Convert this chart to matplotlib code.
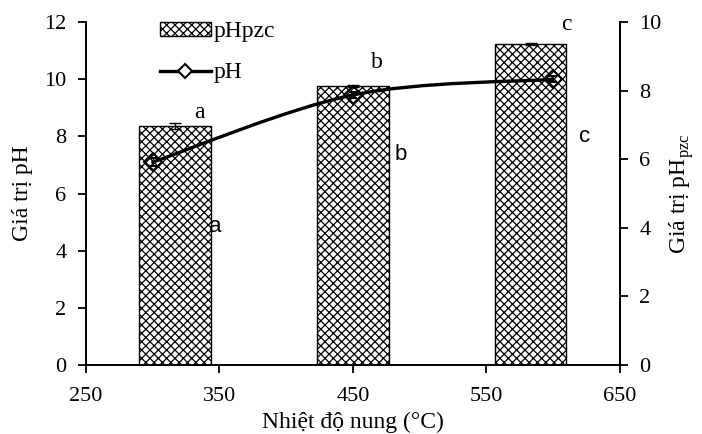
import numpy as np
import matplotlib
matplotlib.use("Agg")
import matplotlib.pyplot as plt
from matplotlib.path import Path
from matplotlib.patches import PathPatch
from matplotlib.lines import Line2D

plt.rcParams['font.family'] = ['Liberation Serif', 'DejaVu Serif']
plt.rcParams['hatch.linewidth'] = 0.9
plt.rcParams['mathtext.fontset'] = 'custom'
plt.rcParams['mathtext.rm'] = 'Liberation Serif'

# nhiet do nung va gia tri do
temp = [300, 450, 600]
ph = [7.1, 9.45, 10.0]
ph_err = [0.15, 0.1, 0.1]
phpzc = [6.97, 8.13, 9.36]
phpzc_err = [0.1, 0.03, 0.04]

# ky hieu thong ke (chu cai) va vi tri tren truc pH
lab_pzc = ['a', 'b', 'c']
lab_pzc_x = [334.6, 468, 610]
lab_pzc_y = [8.85, 10.6, 11.93]
lab_ph = ['a', 'b', 'c']
lab_ph_x = [346.6, 486, 623.8]
lab_ph_y = [4.83, 7.35, 7.98]

fig = plt.figure(figsize=(7.02, 4.34), dpi=100)
ax = fig.add_axes([0.1225, 0.159, 0.7605, 0.79])
ax2 = ax.twinx()

# cot pHpzc theo kieu category (3 o chia deu tren truc x)
xmin, xmax = 250, 650
cat_w = (xmax - xmin) / len(temp)
bar_x = [xmin + cat_w * (i + 0.5) for i in range(len(temp))]
ax2.bar(bar_x, phpzc, width=cat_w * 0.4, color='white', edgecolor='black',
        hatch='xxxx', linewidth=1.0, yerr=phpzc_err, capsize=4,
        error_kw=dict(elinewidth=1, ecolor='black'), label='pHpzc')
ax2.set_ylim(0, 10)
ax2.set_yticks(range(0, 11, 2))

# duong pH lam tron (spline Catmull-Rom -> Bezier)
pts = list(zip(temp, ph))
verts = [pts[0]]
codes = [Path.MOVETO]
for i in range(len(pts) - 1):
    p0 = pts[i - 1] if i > 0 else pts[i]
    p1 = pts[i]
    p2 = pts[i + 1]
    p3 = pts[i + 2] if i + 2 < len(pts) else pts[i + 1]
    c1 = (p1[0] + (p2[0] - p0[0]) / 6, p1[1] + (p2[1] - p0[1]) / 6)
    c2 = (p2[0] - (p3[0] - p1[0]) / 6, p2[1] - (p3[1] - p1[1]) / 6)
    verts += [c1, c2, p2]
    codes += [Path.CURVE4] * 3
ax.add_patch(PathPatch(Path(verts, codes), fill=False, lw=2.4, color='black',
                       capstyle='round', zorder=3))
ax.errorbar(temp, ph, yerr=ph_err, linestyle='none', marker='D', markersize=9,
            markerfacecolor='none', markeredgecolor='black',
            markeredgewidth=1.5, ecolor='black', elinewidth=1, capsize=3,
            zorder=4)

ax.set_xlim(xmin, xmax)
ax.set_ylim(0, 12)
ax.set_xticks(range(250, 651, 100))
ax.set_yticks(range(0, 13, 2))

ax.set_zorder(ax2.get_zorder() + 1)
ax.patch.set_visible(False)

for a in (ax, ax2):
    a.spines['top'].set_visible(False)
    for s in ('left', 'right', 'bottom'):
        a.spines[s].set_linewidth(1.3)
    a.tick_params(direction='out', length=6, width=1.3, labelsize=16, pad=8)
ax.tick_params(axis='x', pad=10)

for t, x, y in zip(lab_pzc, lab_pzc_x, lab_pzc_y):
    ax.text(x, y, t, fontsize=17, ha='center', va='center')
for t, x, y in zip(lab_ph, lab_ph_x, lab_ph_y):
    ax.text(x, y, t, fontsize=16, ha='center', va='center',
            family=['Liberation Sans', 'DejaVu Sans'])

ax.set_xlabel('Nhiệt độ nung (°C)', fontsize=17, labelpad=4)
ax.set_ylabel('Giá trị pH', fontsize=17, labelpad=8)
ax2.set_ylabel('Giá trị pH$_{\\mathrm{pzc}}$', fontsize=17, labelpad=4)

bar_h, bar_l = ax2.get_legend_handles_labels()
line_h = Line2D([], [], color='black', lw=2.4, marker='D', markersize=7,
                markerfacecolor='white', markeredgecolor='black',
                markeredgewidth=1.5)
ax.legend([bar_h[0], line_h], ['pHpzc', 'pH'], loc='upper left',
          bbox_to_anchor=(0.12, 1.03), frameon=False, fontsize=17,
          handlelength=2.2, handleheight=0.55, handletextpad=0.1,
          labelspacing=0.85, borderaxespad=0)

fig.savefig('out.png', dpi=100)
